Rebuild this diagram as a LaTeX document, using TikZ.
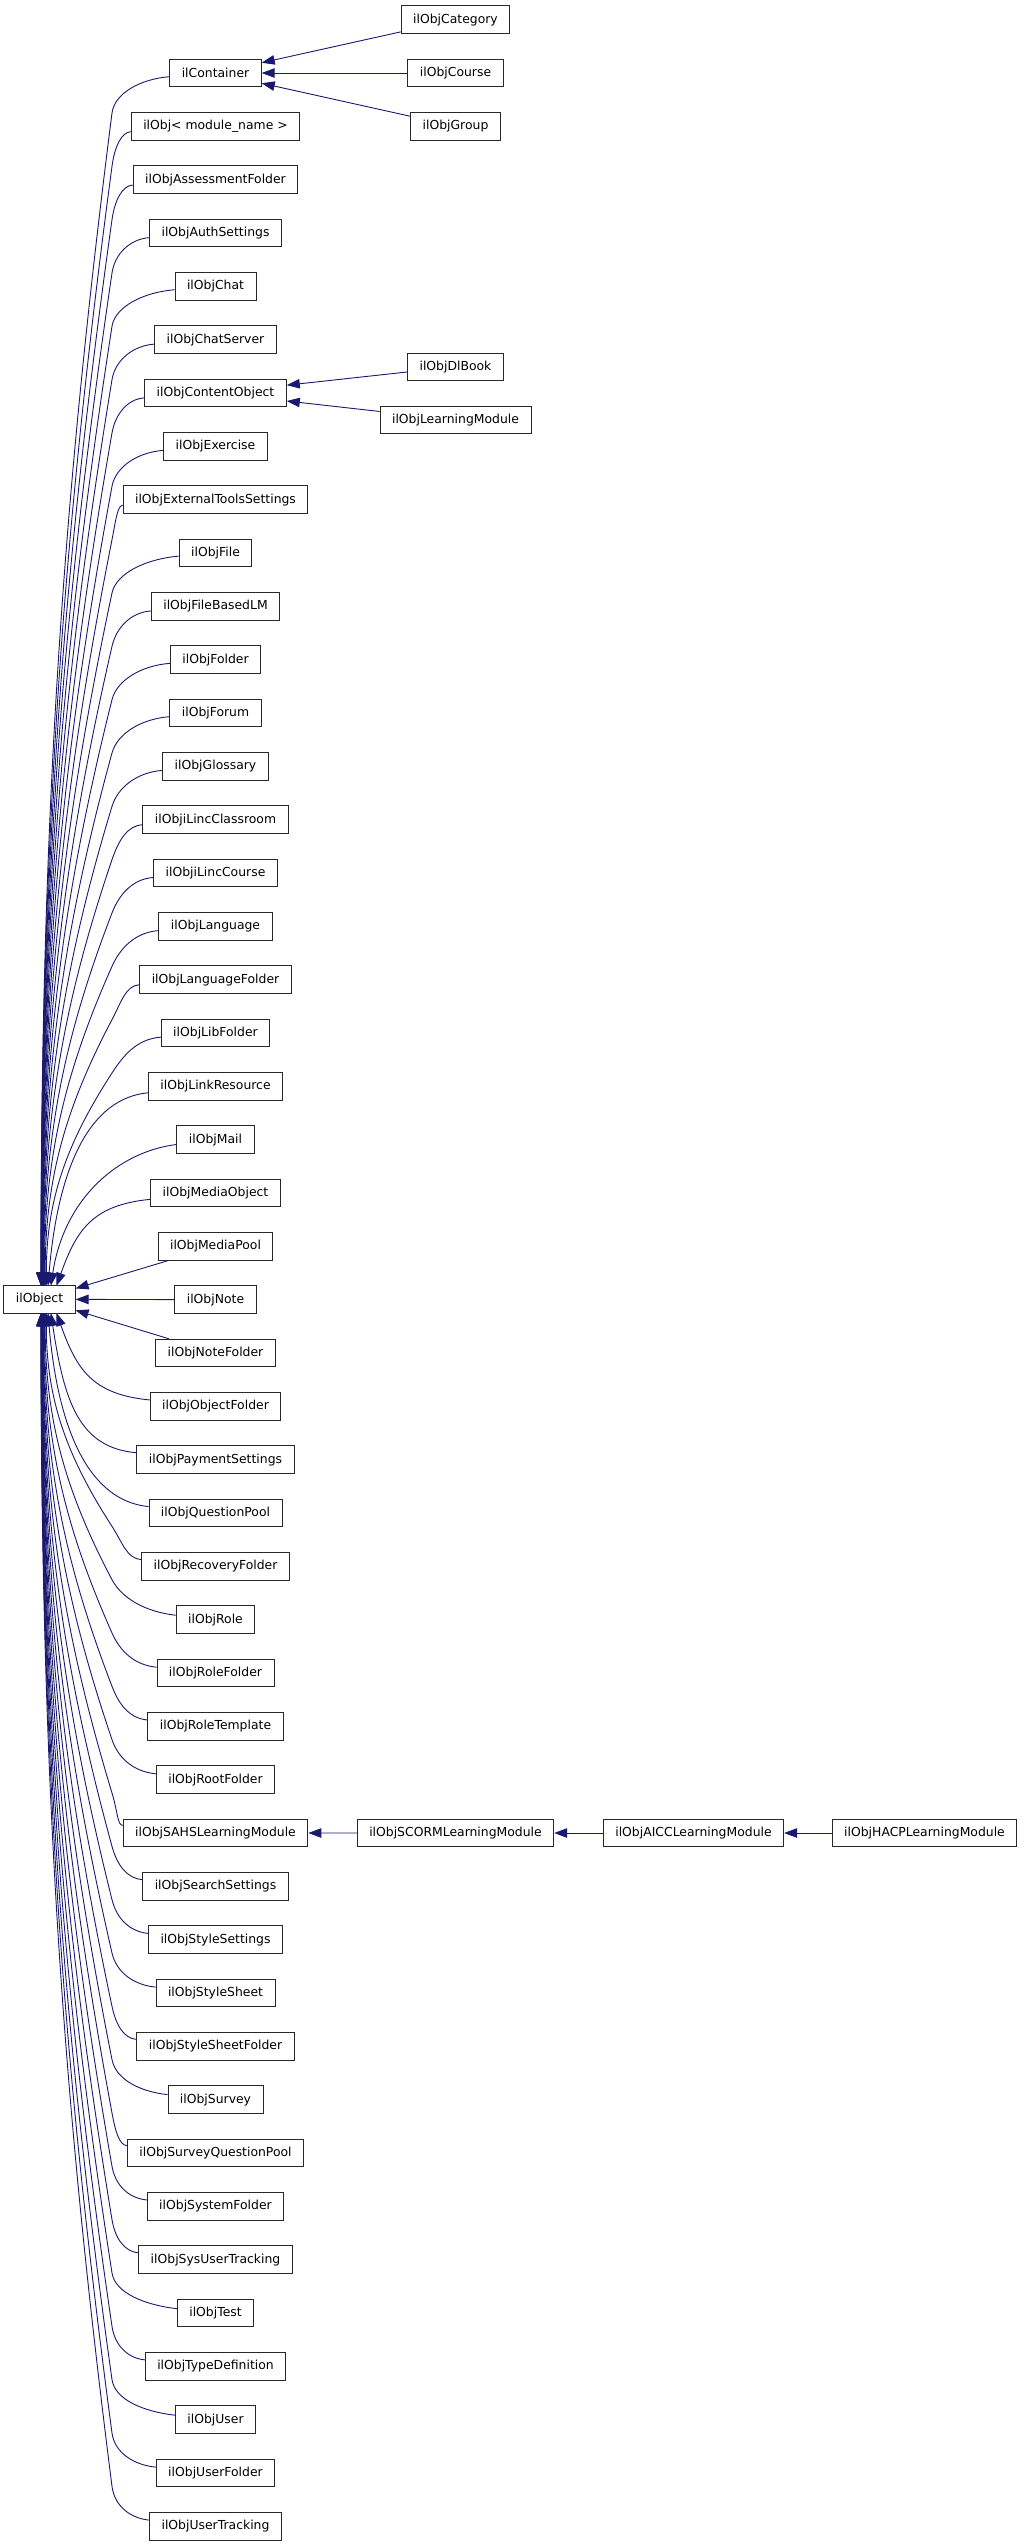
\documentclass[tikz,border=0pt]{standalone}
\usepackage{fontspec}
\setmainfont{DejaVu Sans}
\usepackage{tikz}
\usetikzlibrary{arrows.meta, calc}
\definecolor{inheritblue}{RGB}{25, 25, 112}
\definecolor{boxline}{RGB}{40, 40, 40}

\begin{document}
\begin{tikzpicture}[x=1pt, y=-1pt,
	cls/.style={draw=boxline, line width=0.9pt, fill=white, inner xsep=12pt, inner ysep=0pt,
		minimum height=27.5pt, font=\fontsize{12.4}{15}\selectfont},
	derived/.style={draw=inheritblue, line width=0.9pt, -{Triangle[length=13pt,width=9.5pt]}}]
	\useasboundingbox (0,0) rectangle (1024,2547);
	% base class and first level
	\node[cls] (ilObject) at (39.5,1299.3) {ilObject};
	\node[cls] (ilContainer) at (215.5,73) {ilContainer};
	\node[cls] (ilObjModule) at (215.5,126.3) {ilObj< module\_name >};
	\foreach \nm [count=\r from 2] in {ilObjAssessmentFolder, ilObjAuthSettings, ilObjChat,
		ilObjChatServer, ilObjContentObject, ilObjExercise, ilObjExternalToolsSettings, ilObjFile,
		ilObjFileBasedLM, ilObjFolder, ilObjForum, ilObjGlossary, ilObjiLincClassroom,
		ilObjiLincCourse, ilObjLanguage, ilObjLanguageFolder, ilObjLibFolder, ilObjLinkResource,
		ilObjMail, ilObjMediaObject, ilObjMediaPool, ilObjNote, ilObjNoteFolder, ilObjObjectFolder,
		ilObjPaymentSettings, ilObjQuestionPool, ilObjRecoveryFolder, ilObjRole, ilObjRoleFolder,
		ilObjRoleTemplate, ilObjRootFolder, ilObjSAHSLearningModule, ilObjSearchSettings,
		ilObjStyleSettings, ilObjStyleSheet, ilObjStyleSheetFolder, ilObjSurvey,
		ilObjSurveyQuestionPool, ilObjSystemFolder, ilObjSysUserTracking, ilObjTest,
		ilObjTypeDefinition, ilObjUser, ilObjUserFolder, ilObjUserTracking}
		\node[cls] (\nm) at (215.5,{73+\r*53.333}) {\nm};

	% deeper levels
	\node[cls] (ilObjCategory) at (455.5,19.7) {ilObjCategory};
	\node[cls] (ilObjCourse) at (455.5,73) {ilObjCourse};
	\node[cls] (ilObjGroup) at (455.5,126.3) {ilObjGroup};
	\node[cls] (ilObjDlBook) at (455.5,366.7) {ilObjDlBook};
	\node[cls] (ilObjLearningModule) at (455.5,420) {ilObjLearningModule};
	\node[cls] (ilObjSCORMLearningModule) at (455.5,1833) {ilObjSCORMLearningModule};
	\node[cls] (ilObjAICCLearningModule) at (693.5,1833) {ilObjAICCLearningModule};
	\node[cls] (ilObjHACPLearningModule) at (924.5,1833) {ilObjHACPLearningModule};

	% edges into ilObject, above it
	\foreach \nm [count=\r from 0] in {ilContainer, ilObjModule, ilObjAssessmentFolder,
		ilObjAuthSettings, ilObjChat, ilObjChatServer, ilObjContentObject, ilObjExercise,
		ilObjExternalToolsSettings, ilObjFile, ilObjFileBasedLM, ilObjFolder, ilObjForum,
		ilObjGlossary, ilObjiLincClassroom, ilObjiLincCourse, ilObjLanguage, ilObjLanguageFolder,
		ilObjLibFolder, ilObjLinkResource, ilObjMail, ilObjMediaObject} {
		\pgfmathsetmacro\d{23-\r}
		\pgfmathsetmacro\yc{73+\r*53.333}
		\pgfmathsetmacro\ex{39.5+34/\d}
		\ifnum\r<19
			\pgfmathsetmacro\by{\yc+40}
			\pgfmathsetmacro\L{1285.7-\by}
			\pgfmathsetmacro\ax{112-0.7*(112-\ex)}
			\pgfmathsetmacro\ay{\by+\L/3}
			\pgfmathsetmacro\cy{1285.7-0.4*\L}
			\coordinate (bend) at (112,\by);
			\coordinate (pull) at (\ax,\ay);
			\draw[derived] (\nm) .. controls ($(\nm.west)!0.5!(bend |- \nm.west)+(0,6)$)
				and ($(bend)!-20pt!(pull)$) .. (bend) .. controls (pull) and (\ex,\cy) .. (\ex,1285.7);
		\else
			\pgfmathsetmacro\cy{1285.7-0.6*(1285.7-\yc)}
			\pgfmathsetmacro\cx{\ex+40/\d}
			\draw[derived] (\nm) .. controls ($(\nm.west)+(-58,12)$) and (\cx,\cy) .. (\ex,1285.7);
		\fi
	}
	% edges into ilObject, below it
	\foreach \nm [count=\r from 25] in {ilObjObjectFolder, ilObjPaymentSettings,
		ilObjQuestionPool, ilObjRecoveryFolder, ilObjRole, ilObjRoleFolder, ilObjRoleTemplate,
		ilObjRootFolder, ilObjSAHSLearningModule, ilObjSearchSettings, ilObjStyleSettings,
		ilObjStyleSheet, ilObjStyleSheetFolder, ilObjSurvey, ilObjSurveyQuestionPool,
		ilObjSystemFolder, ilObjSysUserTracking, ilObjTest, ilObjTypeDefinition, ilObjUser,
		ilObjUserFolder, ilObjUserTracking} {
		\pgfmathsetmacro\d{\r-23}
		\pgfmathsetmacro\yc{73+\r*53.333}
		\pgfmathsetmacro\ex{39.5+34/\d}
		\ifnum\r>27
			\pgfmathsetmacro\by{\yc-40}
			\pgfmathsetmacro\L{\by-1313}
			\pgfmathsetmacro\ax{112-0.7*(112-\ex)}
			\pgfmathsetmacro\ay{\by-\L/3}
			\pgfmathsetmacro\cy{1313+0.4*\L}
			\coordinate (bend) at (112,\by);
			\coordinate (pull) at (\ax,\ay);
			\draw[derived] (\nm) .. controls ($(\nm.west)!0.5!(bend |- \nm.west)+(0,-8)$)
				and ($(bend)!-20pt!(pull)$) .. (bend) .. controls (pull) and (\ex,\cy) .. (\ex,1313);
		\else
			\pgfmathsetmacro\cy{1313+0.6*(\yc-1313)}
			\pgfmathsetmacro\cx{\ex+40/\d}
			\draw[derived] (\nm) .. controls ($(\nm.west)+(-58,-12)$) and (\cx,\cy) .. (\ex,1313);
		\fi
	}
	\draw[derived] (ilObjMediaPool) -- (ilObject);
	\draw[derived] (ilObjNote) -- (ilObject);
	\draw[derived] (ilObjNoteFolder) -- (ilObject);

	% other edges
	\foreach \nm in {ilObjCategory, ilObjCourse, ilObjGroup}
		\draw[derived] (\nm) -- (ilContainer);
	\foreach \nm in {ilObjDlBook, ilObjLearningModule}
		\draw[derived] (\nm) -- (ilObjContentObject);
	\draw[derived] (ilObjSCORMLearningModule) -- (ilObjSAHSLearningModule);
	\draw[derived] (ilObjAICCLearningModule) -- (ilObjSCORMLearningModule);
	\draw[derived] (ilObjHACPLearningModule) -- (ilObjAICCLearningModule);
\end{tikzpicture}
\end{document}
